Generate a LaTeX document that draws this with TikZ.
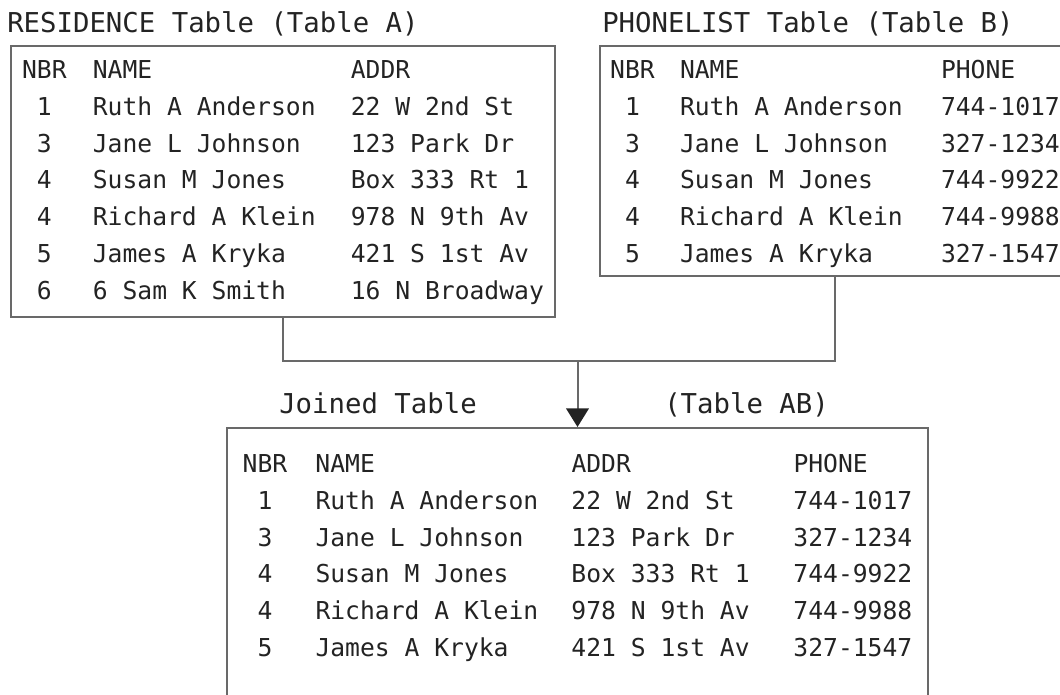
\documentclass[tikz,border=0pt]{standalone}
\usepackage{fontspec}
\usepackage{xcolor}
\usepackage{tikz}
\usetikzlibrary{arrows.meta}
\newfontfamily\termfont{DejaVu Sans Mono}
\definecolor{boxgray}{RGB}{105,105,105}
\definecolor{inkgray}{RGB}{35,35,35}

\tikzset{
  tablebox/.style={draw=boxgray, line width=1.5pt, inner xsep=0pt, inner ysep=5pt,
    text=inkgray, font=\termfont\fontsize{18.5pt}{27.6pt}\selectfont},
  tabletitle/.style={anchor=base west, inner sep=0pt, text=inkgray,
    font=\termfont\fontsize{20.5pt}{24pt}\selectfont},
  link/.style={draw=boxgray, line width=1.5pt}
}

\begin{document}
\begin{tikzpicture}[x=0.75pt, y=0.75pt]
  \useasboundingbox (0,0) rectangle (1060,695);

  \node[tablebox, anchor=north, minimum width=408pt] (residence) at (283,650) {
    \begin{tabular}{@{}c@{\hspace{19.7pt}}p{193.5pt}@{}l@{}}
      NBR & NAME & ADDR \\
      1 & Ruth A Anderson & 22 W 2nd St \\
      3 & Jane L Johnson & 123 Park Dr \\
      4 & Susan M Jones & Box 333 Rt 1 \\
      4 & Richard A Klein & 978 N 9th Av \\
      5 & James A Kryka & 421 S 1st Av \\
      6 & 6 Sam K Smith & 16 N Broadway
    \end{tabular}
  };
  \node[tabletitle] (residenceTitle) at ([shift={(-3,12)}]residence.north west) {RESIDENCE Table (Table A)};

  \node[tablebox, anchor=north, minimum width=352.5pt] (phonelist) at (835,650) {
    \begin{tabular}{@{}c@{\hspace{19pt}}p{195.75pt}@{}l@{}}
      NBR & NAME & PHONE \\
      1 & Ruth A Anderson & 744-1017 \\
      3 & Jane L Johnson & 327-1234 \\
      4 & Susan M Jones & 744-9922 \\
      4 & Richard A Klein & 744-9988 \\
      5 & James A Kryka & 327-1547 \\[-3pt]
    \end{tabular}
  };
  \node[tabletitle] (phonelistTitle) at ([shift={(3,12)}]phonelist.north west) {PHONELIST Table (Table B)};

  \node[tablebox, anchor=north, inner ysep=14pt, minimum width=525.75pt] (joined) at (577.5,268) {
    \begin{tabular}{@{}c@{\hspace{21.2pt}}p{192pt}@{}p{166.5pt}@{}l@{}}
      NBR & NAME & ADDR & PHONE \\
      1 & Ruth A Anderson & 22 W 2nd St & 744-1017 \\
      3 & Jane L Johnson & 123 Park Dr & 327-1234 \\
      4 & Susan M Jones & Box 333 Rt 1 & 744-9922 \\
      4 & Richard A Klein & 978 N 9th Av & 744-9988 \\
      5 & James A Kryka & 421 S 1st Av & 327-1547 \\[30pt]
    \end{tabular}
  };
  \node[tabletitle] (joinedTitle) at ([shift={(53,13)}]joined.north west) {Joined Table};
  \node[tabletitle] (joinedTag) at ([shift={(438,13)}]joined.north west) {(Table AB)};

  \coordinate (merge) at (577.5,334);
  \draw[link] (residence.south) |- (merge) -| (phonelist.south);
  \draw[link, -{Triangle[width=17pt,length=14pt,color=inkgray]}] (merge) -- (joined.north);
\end{tikzpicture}
\end{document}
